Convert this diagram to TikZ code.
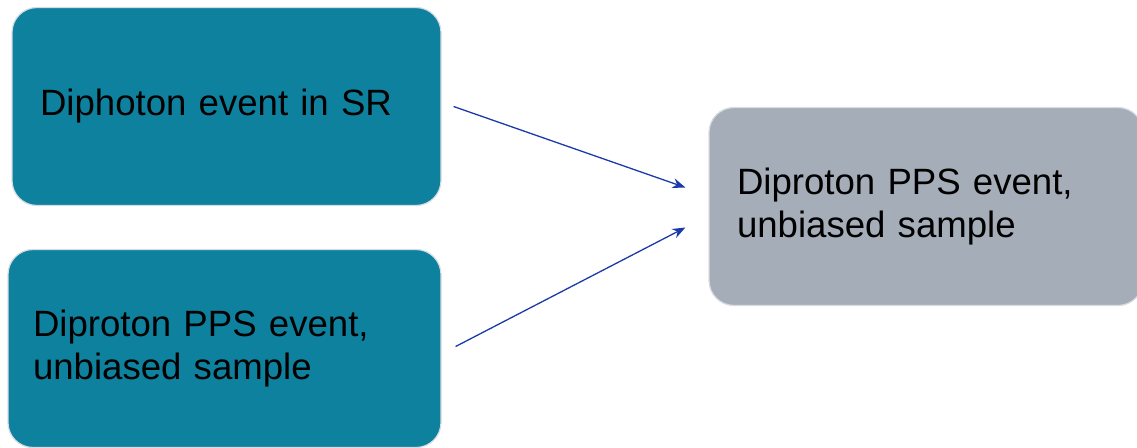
\documentclass[tikz,border=0pt]{standalone}
\usepackage{fontspec}
\setmainfont{Liberation Sans}
\usepackage{tikz}
\usetikzlibrary{arrows.meta,calc}
\definecolor{teal1}{HTML}{0E819F}
\definecolor{gray1}{HTML}{A5AEB8}
\definecolor{edge1}{HTML}{D8DCE2}
\definecolor{blue1}{HTML}{1A3AA8}

\begin{document}
\begin{tikzpicture}[x=1pt,y=-1pt,
  box/.style={draw=edge1,line width=1.2pt,rounded corners=25pt,minimum height=198pt,
    inner xsep=28pt,text width=373pt,align=left,font=\fontsize{36.6}{43}\selectfont},
  link/.style={-{Stealth[length=13pt,width=10pt]},blue1,line width=1.3pt}]
\useasboundingbox (0,0) rectangle (1137,447);
\node[box,fill=teal1] (sr) at (226.5,106.5) {Diphoton event in SR};
\node[box,fill=teal1,inner xsep=25pt,text width=383pt] (pps) at (224.5,348.5) {Diproton PPS event,\\unbiased sample};
\node[box,fill=gray1,text width=378pt] (res) at (926,206.5) {Diproton PPS event,\\unbiased sample};
\draw[link] ([xshift=12pt,yshift=0pt]sr.east) -- ([xshift=-23pt,yshift=19pt]res.west);
\draw[link] ([xshift=14pt,yshift=2pt]pps.east) -- ([xshift=-23pt,yshift=-21pt]res.west);
\end{tikzpicture}
\end{document}
